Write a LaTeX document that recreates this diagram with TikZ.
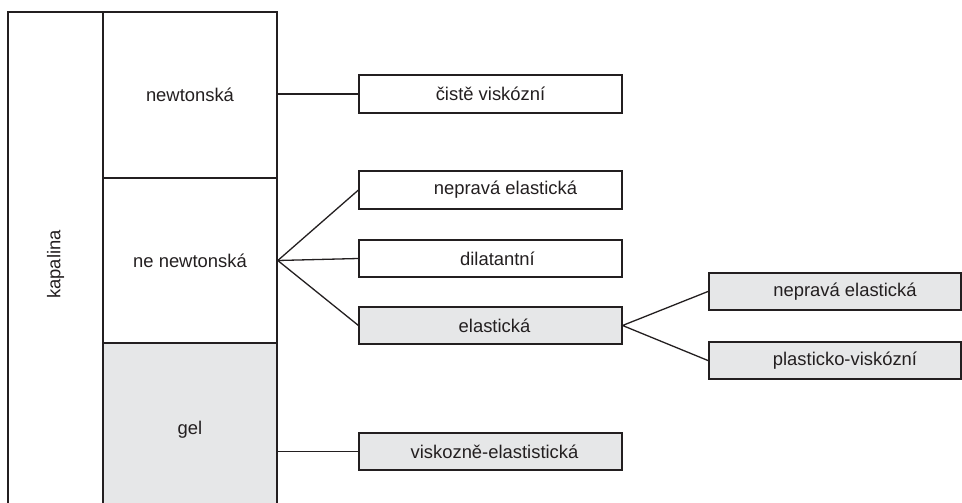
\documentclass[tikz,border=0pt]{standalone}
\usepackage{fontspec}
\setmainfont{Liberation Sans}
\definecolor{ink}{HTML}{231F20}
\definecolor{shade}{HTML}{E6E7E8}
\begin{document}
\begin{tikzpicture}[x=1pt,y=-1pt,
  every node/.style={font=\fontsize{18.4}{22}\selectfont, text=ink},
  cell/.style={draw=ink, line width=1.6pt, inner sep=0pt, fill=white},
  leaf/.style={draw=ink, line width=1.6pt, inner sep=0pt, fill=white,
               minimum width=262.5pt, minimum height=37.5pt},
  leafwide/.style={leaf, minimum width=252.5pt},
  grey/.style={fill=shade},
  link/.style={draw=ink, line width=1.3pt}]
\useasboundingbox (0,0) rectangle (962,503);
\clip (0,0) rectangle (962,503);

% left column: the liquid and its three classes
\node[cell, rotate=90, minimum width=505pt, minimum height=95pt] (kap) at (55.5,264.5) {kapalina};
\node[cell, minimum width=174pt, minimum height=166pt] (newt) at (190,95) {newtonská};
\node[cell, minimum width=174pt, minimum height=165pt] (nenewt) at (190,260.5) {ne newtonská};
\node[cell, grey, minimum width=174pt, minimum height=174pt] (gel) at (190,430) {gel};

% second level
\node[leaf] (cist) at (490.5,94) {čistě viskózní};
\node[leaf] (nepr) at (490.5,190) {\hspace*{30pt}nepravá elastická};
\node[leaf] (dil) at (490.5,258.5) {\hspace*{14pt}dilatantní};
\node[leaf, grey] (elast) at (490.5,325.5) {\hspace*{8pt}elastická};
\node[leaf, grey] (visk) at (490.5,451.5) {\hspace*{8pt}viskozně-elastistická};

% third level
\node[leafwide, grey] (neprB) at (835,291.5) {\hspace*{20pt}nepravá elastická};
\node[leafwide, grey] (plast) at (835,360.5) {\hspace*{20pt}plasticko-viskózní};

% connectors
\draw[link] (cist.west -| newt.east) -- (cist.west);
\draw[link] (nepr.west) -- (nenewt.east) -- (elast.west);
\draw[link] (nenewt.east) -- (dil.west);
\draw[link] (neprB.west) -- (elast.east) -- (plast.west);
\draw[link] (visk.west -| gel.east) -- (visk.west);
\end{tikzpicture}
\end{document}
